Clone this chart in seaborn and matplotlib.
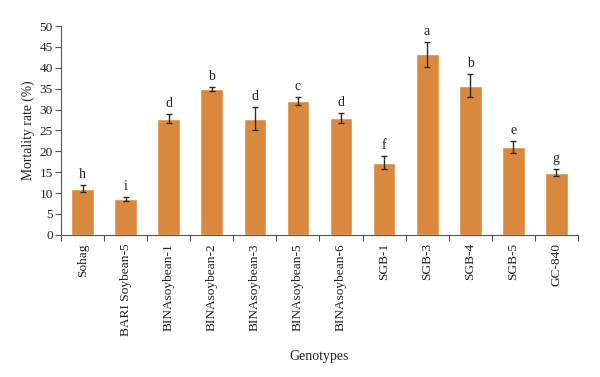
import pandas as pd
import matplotlib
matplotlib.use("Agg")
import matplotlib.pyplot as plt
from matplotlib.ticker import MultipleLocator, FixedLocator
import seaborn as sns

genotypes = ["Sohag", "BARI Soybean-5", "BINAsoybean-1", "BINAsoybean-2",
             "BINAsoybean-3", "BINAsoybean-5", "BINAsoybean-6", "SGB-1",
             "SGB-3", "SGB-4", "SGB-5", "GC-840"]
mortality = [11.1, 8.5, 27.8, 34.9, 27.8, 32.1, 28.0, 17.3, 43.2, 35.7, 21.0, 14.9]
errors = [0.9, 0.5, 1.1, 0.4, 2.7, 0.9, 1.2, 1.6, 3.0, 2.7, 1.5, 0.9]
letters = ["h", "i", "d", "b", "d", "c", "d", "f", "a", "b", "e", "g"]

df = pd.DataFrame({"Genotypes": genotypes, "Mortality": mortality})

sns.set_style("white")
plt.rcParams["font.family"] = ["Liberation Serif", "DejaVu Serif"]
plt.rcParams["font.size"] = 9.5

fig = plt.figure(figsize=(6, 3.77), dpi=100)
ax = fig.add_axes([0.102, 0.377, 0.861, 0.554])

sns.barplot(data=df, x="Genotypes", y="Mortality", color="#D9883E",
            saturation=1, width=0.53, errorbar=None, ax=ax)
ax.errorbar(range(len(genotypes)), mortality, yerr=errors, fmt="none",
            ecolor="#2b2b2b", elinewidth=1, capsize=2.5, capthick=1)

for i, (v, e, t) in enumerate(zip(mortality, errors, letters)):
    ax.annotate(t, (i, v + e), xytext=(0, 3), textcoords="offset points",
                ha="center", va="bottom", fontsize=10, color="#222222")

ax.set_ylim(0, 50)
ax.set_xlim(-0.5, len(genotypes) - 0.5)
ax.yaxis.set_major_locator(MultipleLocator(5))
ax.set_ylabel("Mortality rate (%)", fontsize=9.8, color="#222222", labelpad=3)
ax.set_xlabel("Genotypes", fontsize=10, color="#222222", labelpad=10)

ax.xaxis.set_minor_locator(FixedLocator([i - 0.5 for i in range(len(genotypes) + 1)]))
ax.tick_params(axis="x", which="major", bottom=True, length=0, rotation=90, pad=6, labelsize=9.6)
ax.tick_params(axis="x", which="minor", bottom=True, length=4, width=0.8, color="#555555", direction="out")
ax.tick_params(axis="y", left=True, length=4, width=0.8, color="#555555", direction="out", labelsize=9.6, pad=2)
ax.tick_params(axis="both", labelcolor="#222222")

for s in ["top", "right"]:
    ax.spines[s].set_visible(False)
for s in ["left", "bottom"]:
    ax.spines[s].set_color("#555555")
    ax.spines[s].set_linewidth(0.8)

fig.savefig("out.png", dpi=100)
